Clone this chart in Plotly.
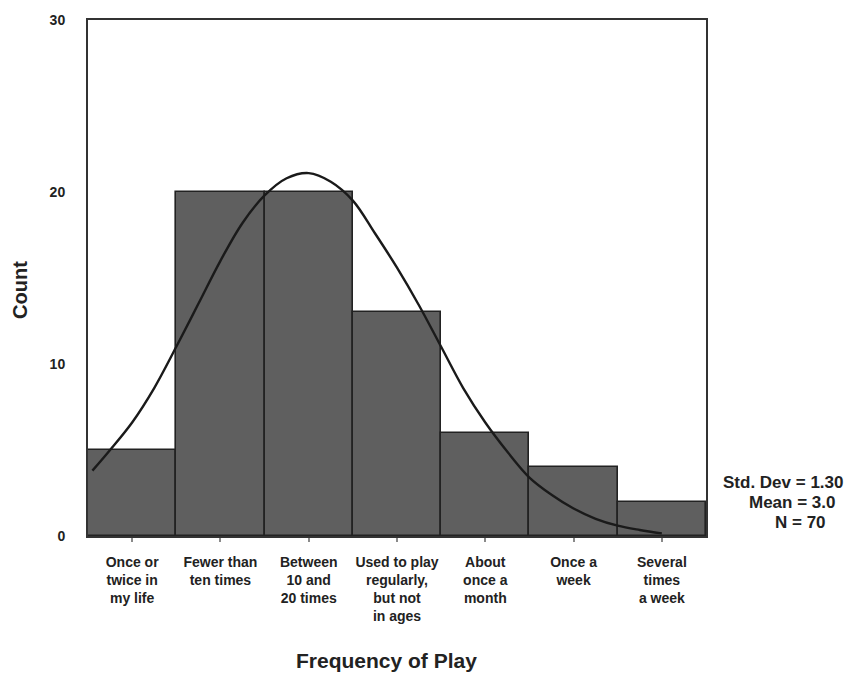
import plotly.graph_objects as go

# ---- data ----
categories = [
    "Once or<br>twice in<br>my life",
    "Fewer than<br>ten times",
    "Between<br>10 and<br>20 times",
    "Used to play<br>regularly,<br>but not<br>in ages",
    "About<br>once a<br>month",
    "Once a<br>week",
    "Several<br>times<br>a week",
]
bin_pos = [1, 2, 3, 4, 5, 6, 7]
counts = [5, 20, 20, 13, 6, 4, 2]

# normal curve as traced (by eye) from the picture
curve_x = [0.55, 0.75, 1.0, 1.25, 1.5, 1.75, 2.0, 2.25, 2.5, 2.75, 3.0,
           3.25, 3.5, 3.75, 4.0, 4.25, 4.5, 4.75, 5.0, 5.25, 5.5, 5.75,
           6.0, 6.25, 6.5, 6.75, 7.0]
curve_y = [3.8, 5.0, 6.6, 8.6, 11.0, 13.5, 16.0, 18.2, 19.8, 20.8, 21.1,
           20.6, 19.5, 17.6, 15.6, 13.4, 11.0, 8.6, 6.6, 4.9, 3.4, 2.4,
           1.6, 1.0, 0.6, 0.35, 0.15]

std_dev = 1.30
mean_val = 3.0
n_val = 70

y_ticks = [0, 10, 20, 30]

FONT = "Liberation Sans"
TXT = "#222222"

fig = go.Figure()
fig.add_trace(go.Bar(
    x=bin_pos, y=counts, width=1.0,
    marker=dict(color="#5f5f5f", line=dict(color="#222222", width=1.6)),
    showlegend=False, hoverinfo="y",
))
fig.add_trace(go.Scatter(
    x=curve_x, y=curve_y, mode="lines",
    line=dict(color="#1a1a1a", width=2.4, shape="spline", smoothing=1.0),
    showlegend=False, hoverinfo="skip",
))

fig.update_layout(
    width=848, height=673,
    margin=dict(l=88, r=142, t=14, b=137),
    paper_bgcolor="white", plot_bgcolor="white",
    bargap=0,
    font=dict(family=FONT, color=TXT, size=14),
    xaxis=dict(
        range=[0.5, 7.5], tickmode="array", tickvals=bin_pos, ticktext=categories,
        ticks="outside", ticklen=4, tickwidth=2, tickcolor="#8a8a8a",
        showline=True, mirror=True, linecolor="#333333", linewidth=2,
        showgrid=False, zeroline=False,
        tickfont=dict(family=FONT, size=14, color=TXT, weight="bold"),
        ticklabelstandoff=8,
    ),
    yaxis=dict(
        range=[0, 30], tickmode="array", tickvals=y_ticks,
        ticks="", showline=True, mirror=True, linecolor="#333333", linewidth=2,
        showgrid=False, zeroline=False,
        tickfont=dict(family=FONT, size=14, color=TXT, weight="bold"),
        ticklabelstandoff=18,
    ),
    annotations=[
        dict(text="<b>Count</b>", xref="paper", yref="paper", x=-0.110, y=0.477,
             textangle=-90, showarrow=False, font=dict(size=20, family=FONT, color=TXT),
             xanchor="center", yanchor="middle"),
        dict(text="<b>Frequency of Play</b>", xref="paper", yref="paper", x=0.483, y=-0.241,
             showarrow=False, font=dict(size=21, family=FONT, color=TXT),
             xanchor="center", yanchor="middle"),
        dict(text=f"<b>Std. Dev = {std_dev:.2f}</b>", xref="paper", yref="paper",
             x=1.225, y=0.104, showarrow=False, xanchor="right", yanchor="middle",
             font=dict(size=17, family=FONT, color=TXT)),
        dict(text=f"<b>Mean = {mean_val:.1f}</b>", xref="paper", yref="paper",
             x=1.212, y=0.0657, showarrow=False, xanchor="right", yanchor="middle",
             font=dict(size=17, family=FONT, color=TXT)),
        dict(text=f"<b>N = {n_val}</b>", xref="paper", yref="paper",
             x=1.197, y=0.0255, showarrow=False, xanchor="right", yanchor="middle",
             font=dict(size=17, family=FONT, color=TXT)),
    ],
)

fig.write_html(
    "out.html",
    config={"displayModeBar": False},
    post_script="document.body.style.margin='0';document.body.style.padding='0';"
                "document.body.style.overflow='hidden';",
)
